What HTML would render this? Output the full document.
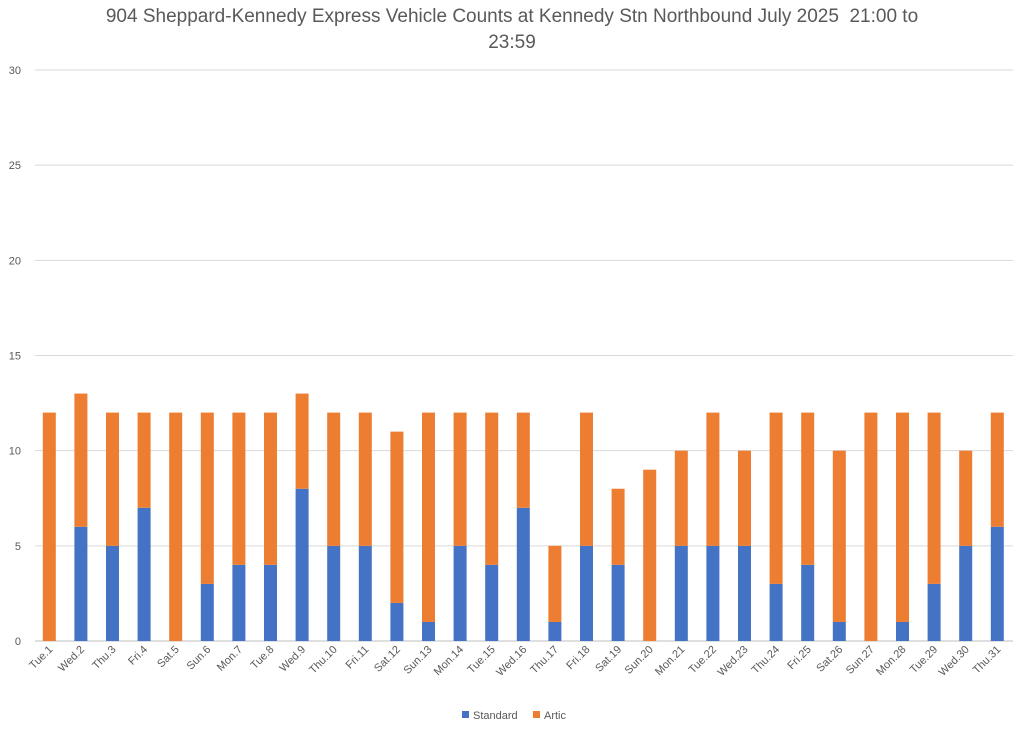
<!DOCTYPE html>
<html><head><meta charset="utf-8"><style>
body{margin:0;background:#fff;font-family:"Liberation Sans",sans-serif;}
</style></head><body>
<svg width="1024" height="725" xmlns="http://www.w3.org/2000/svg">
<text x="512" y="22" text-anchor="middle" font-size="19" fill="#595959">904 Sheppard-Kennedy Express Vehicle Counts at Kennedy Stn Northbound July 2025&#160; 21:00 to</text>
<text x="512" y="48" text-anchor="middle" font-size="19" fill="#595959">23:59</text>
<g id="grid"></g><g id="bars"></g><g id="xl"></g>
<g>
<rect x="462" y="711" width="7" height="7" fill="#4472C4"/>
<text x="473" y="719" font-size="11" fill="#595959">Standard</text>
<rect x="533" y="711" width="7" height="7" fill="#ED7D31"/>
<text x="544" y="719" font-size="11" fill="#595959">Artic</text>
</g>
</svg>
<script>
const categories=["Tue.1","Wed.2","Thu.3","Fri.4","Sat.5","Sun.6","Mon.7","Tue.8","Wed.9","Thu.10","Fri.11","Sat.12","Sun.13","Mon.14","Tue.15","Wed.16","Thu.17","Fri.18","Sat.19","Sun.20","Mon.21","Tue.22","Wed.23","Thu.24","Fri.25","Sat.26","Sun.27","Mon.28","Tue.29","Wed.30","Thu.31"];
const standard=[0,6,5,7,0,3,4,4,8,5,5,2,1,5,4,7,1,5,4,0,5,5,5,3,4,1,0,1,3,5,6];
const artic=[12,7,7,5,12,9,8,8,5,7,7,9,11,7,8,5,4,7,4,9,5,7,5,9,8,9,12,11,9,5,6];
const yTicks=[0,5,10,15,20,25,30];
const NS="http://www.w3.org/2000/svg";
const y0=641,yTop=70,x0=33.5,step=31.6,bw=13;
const ys=v=>y0-(y0-yTop)*v/30;
const xc=i=>x0+step*(i+0.5);
function mk(p,t,a){const e=document.createElementNS(NS,t);for(const k in a)e.setAttribute(k,a[k]);p.appendChild(e);return e;}
const grid=document.getElementById('grid'),bars=document.getElementById('bars'),xl=document.getElementById('xl');
yTicks.forEach(v=>{
 const l=mk(grid,'line',{x1:35,x2:1013,y1:ys(v),y2:ys(v),stroke:v===0?'#bfbfbf':'#d9d9d9','stroke-width':1});
 
 
 const t=mk(grid,'text',{x:21,y:ys(v)+4,'text-anchor':'end','font-size':11,fill:'#595959'});t.textContent=v;
 
 
});
categories.forEach((c,i)=>{
 const x=xc(i)-bw/2,s=standard[i],a=artic[i];
 const r1=mk(bars,'rect',{x:x,y:ys(s),width:bw,height:y0-ys(s),fill:'#4472C4'});
 
 
 const r2=mk(bars,'rect',{x:x,y:ys(s+a),width:bw,height:ys(s)-ys(s+a),fill:'#ED7D31'});
 
 
 const t=mk(xl,'text',{x:xc(i)+4,y:650,'text-anchor':'end','font-size':11,fill:'#595959',transform:`rotate(-45 ${xc(i)+4} 650)`});
 t.textContent=c;
 
 
});
</script>
</body></html>
